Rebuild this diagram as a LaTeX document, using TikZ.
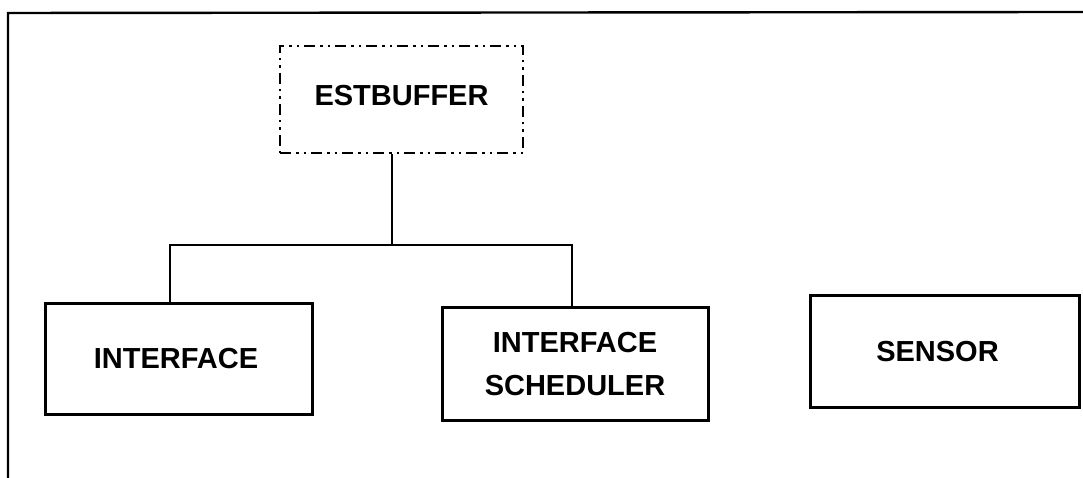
\documentclass[tikz,border=0pt]{standalone}
\usepackage{fontspec}
\setmainfont{Liberation Sans}
\begin{document}
\begin{tikzpicture}[x=1pt,y=1pt,
  box/.style={draw, line width=3pt, inner sep=0pt, align=center,
    font=\fontsize{29}{41}\selectfont\bfseries},
  dbox/.style={box, line width=2.2pt, dash pattern=on 11pt off 5pt on 2.5pt off 5pt on 2.5pt off 5pt},
  wire/.style={line width=1.8pt}]
\useasboundingbox (0,0) rectangle (1083,478);
% outer frame (open right and bottom)
\draw[line width=2.4pt] (8,0) -- (8,465) -- (1083,466);
% nodes
\node[dbox, minimum width=243pt, minimum height=107pt] (est) at (401.5,378.5) {\raisebox{8pt}{ESTBUFFER}};
\node[box, minimum width=267pt, minimum height=111pt] (intf) at (178.5,118.5) {\hspace*{-5pt}\raisebox{2pt}{INTERFACE}};
\node[box, minimum width=266pt, minimum height=113pt] (isch) at (575,113.5) {\raisebox{2pt}{INTERFACE}\\SCHEDULER};
\node[box, minimum width=269pt, minimum height=112pt] (sens) at (944.5,126) {\hspace*{-14pt}SENSOR};
% connectors
\coordinate (j) at (392,233);
\coordinate (jl) at (170,233);
\coordinate (jr) at (572,233);
\draw[wire] (est.south -| j) -- (j);
\draw[wire] (intf.north -| jl) -- (jl) -- (jr) -- (isch.north -| jr);
\end{tikzpicture}
\end{document}
